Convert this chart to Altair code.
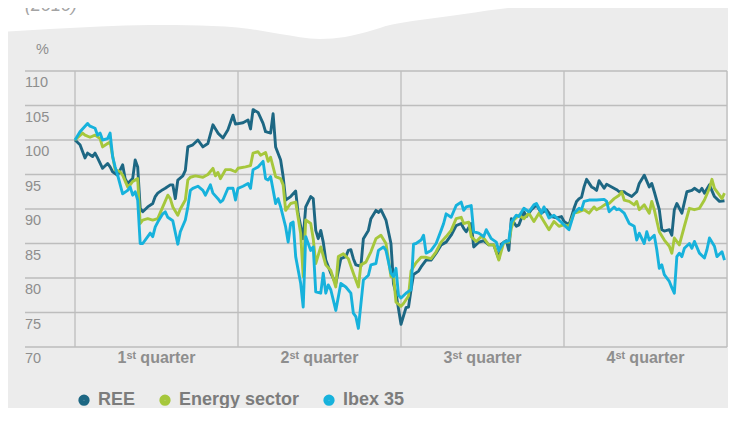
import altair as alt
import pandas as pd

# ---------------- data ----------------
series_names = ["REE", "Energy sector", "Ibex 35"]
series_colors = ["#1d6783", "#a6c73c", "#17b2dc"]

ree_day = [0,2,4,5,7,8,9,11,13,14,15,17,19,20,21,23,24,25,26,27,29,31,32,33,35,36,38,39,40,41,43,44,45,47,49,51,53,55,57,59,61,63,64,67,69,70,71,73,75,76,78,79,80,82,83,84,86,88,89,91,92,94,95,96,97,98,99,100,102,104,106,108,109,110,111,112,114,115,117,118,120,121,122,124,126,127,128,130,132,133,134,135,137,138,140,142,144,146,148,150,152,154,155,156,158,159,161,163,165,167,169,170,172,173,174,176,177,179,180,182,184,186,188,190,192,194,195,197,199,200,201,202,203,204,206,207,208,209,211,212,214,216,217,219,220,222,224,225,227,229,230,231,233,234,235,237,238,239,240,242,244,246,247,249,250,251,253,255,257,259]
ree_val = [100,99.3,97.4,98.1,97.6,98.1,97.4,95.9,96.6,96.1,95.4,94.9,96.4,94.4,93.7,94.4,97.1,96.1,90.1,89.6,90.3,90.8,91.8,92.3,92.8,93,93.5,93.5,91.5,94.2,94.8,95.6,99,99.3,100,99,99.5,102.2,101,100.3,101.5,103.6,102.3,102.5,102.9,101.6,104.4,104,102.4,101.2,101,103.8,99,97.1,94.7,91.3,91.8,92.6,89.3,85.7,90.3,91.8,91.5,86.9,85.7,86.9,85.2,82.6,80.7,79.2,82.8,83.1,84,84.1,82.8,81.9,81.7,85.7,86.9,88.6,89.8,89.5,89.9,88.4,85,79.2,77.8,73.3,75.7,75.8,78.3,80.5,81,81.6,82.6,82.6,83.6,84.8,85.2,86.2,87.6,87.9,87.2,86.7,87.9,84.5,85.2,85.4,84.8,84.8,82.8,84.9,85.4,84,88.6,87.5,87.7,89.6,88.9,89.9,90.6,89.4,89.9,88.9,88.7,88.9,88.2,87.7,90.1,91.1,91.5,91.7,93.2,94.3,93.2,93,92.7,94.1,93,93.6,93.2,92.8,92.5,92.5,92.2,91.8,92.5,93.7,94.9,93.2,93.7,92.5,89.9,87,86.8,87,86.2,89.9,90.8,89.4,92.5,92.7,93,92.5,93,92.3,93.5,91.8,91.1,91.2]

energy_day = [0,3,4,6,8,10,11,13,14,16,18,19,21,22,23,25,26,27,29,31,33,35,37,38,39,41,42,44,45,46,48,51,53,55,56,57,58,60,62,64,65,68,70,71,73,74,76,77,78,80,82,83,84,86,88,90,91,92,94,95,96,98,100,102,104,105,107,109,111,113,114,116,118,120,122,124,126,127,128,130,131,133,134,136,138,140,142,144,146,148,150,152,154,155,157,158,160,162,163,165,167,169,171,173,174,175,177,179,181,183,185,187,189,191,193,195,197,199,201,203,205,207,208,210,212,213,215,217,218,219,221,223,224,225,227,229,230,231,233,235,237,238,239,241,243,245,247,249,251,253,254,255,257,258,259]
energy_val = [100,101,100.7,100.4,100.7,100.2,99,99.5,99.7,95.7,95.4,94.9,93.2,93.5,94,94.4,87.9,88.4,88.6,88.4,88.6,90.3,92,91.5,90.3,89.1,90,91.3,94.2,94.6,94.8,94.6,95,95.9,94.8,95.3,94.4,95.7,95.7,95.4,95.9,96.1,96.3,98.1,98.3,97.8,98.2,96.9,97.5,94.7,94.4,93.5,89.8,90.8,91,86.4,80.2,88.4,87.9,85.7,82.1,84.5,81.9,81.1,78.7,83.1,83.5,82.8,80.7,78.7,81.9,82.3,83.8,85.7,86.2,85,80.2,80.4,76.5,75.9,76.3,77.4,81,82.2,83,83,82.8,83.8,85.2,86,86.9,88.6,88.8,87.9,88.1,86,85.3,86,85.8,84.8,84.8,82.6,85.2,85.2,87.2,88.4,89.1,88.6,89.4,88.2,89.4,88.2,87,88.2,87.5,87.7,87.5,89.4,89.6,89.9,89.4,90.3,89.9,90.3,90.8,90.8,91.5,92,92.5,91.3,91.1,90.6,91.1,89.9,90.6,89.4,91.1,89.9,86.7,85.5,84.6,83.6,85.8,84.8,87.5,90.1,89.9,90.1,91.3,93,94.3,93,92,91.5,92.3]

ibex_day = [0,2,5,6,8,9,10,11,13,14,15,16,17,19,21,22,23,24,25,26,27,29,30,31,32,33,35,36,37,39,40,41,42,44,45,46,47,49,51,52,54,55,57,58,59,61,63,64,65,67,69,70,71,73,75,76,77,78,80,81,82,84,85,86,87,88,90,91,92,94,95,96,98,99,100,101,102,104,106,108,110,111,112,113,115,117,118,120,121,123,124,126,127,128,129,130,132,134,135,136,138,139,140,142,144,146,147,148,150,152,154,155,156,158,159,161,163,164,166,168,169,171,173,174,176,177,179,181,183,184,186,187,189,191,193,195,197,199,201,202,203,205,208,211,212,213,215,216,217,219,221,223,224,225,227,228,229,231,232,233,234,235,237,238,239,240,241,242,243,245,246,247,249,251,252,253,255,256,258,259]
ibex_val = [100,101.2,102.4,102,101.7,100.7,101,100,100.2,101,97.6,96.1,94.9,92.2,92.7,93.2,92,92.5,91.3,85,85,86,86.5,86,87.4,88.1,89.3,89.6,88.8,88.3,86.6,84.9,86.7,88.4,90.3,92.7,93,93.3,92.7,92,93.5,92.3,91.5,91,91.3,93,93,91.3,93,93.3,93.7,93,95.7,96.1,96.9,94.4,94.2,94.7,90.8,91.5,90.3,87.4,85.2,87.9,88.1,83.1,79.2,75.8,86,84,84.5,78,77.8,80.7,77.8,79,78.3,75.3,79.2,78.7,77.8,74.9,74.4,72.7,79.7,80.4,81.9,82.1,84,84.5,84,80.7,80.2,81.4,77.5,77.1,77.8,78.3,84.9,85,85.5,86.2,83.6,84,85,86.9,87.9,89.3,88.8,90.5,91,89.8,90.3,90.5,86.7,86.5,86,87,85.7,85.2,84,85.2,85.4,88.1,89.1,88.9,90.1,89.6,90.6,90.8,89.4,90.3,88.7,89.1,88.4,87.7,87,89.4,90.1,89.9,91.1,91.3,91.3,91.4,91.1,89.6,90.3,89.9,90,89.4,87.9,87.5,85.5,86.5,85,86.7,85.5,86.2,84.1,81.4,81.9,80.5,79.5,78.6,77.8,83.1,83.6,83.1,84.3,85,84.3,85.3,83.6,82.9,84.1,85.8,84.6,83.1,83.8,82.6]

y_ticks = [70, 75, 80, 85, 90, 95, 100, 105, 110]
quarter_bounds = [0, 65, 130, 195, 260]
quarter_mid = [32.5, 97.5, 162.5, 227.5]
quarter_labels = ["1ˢᵗ quarter", "2ˢᵗ quarter", "3ˢᵗ quarter", "4ˢᵗ quarter"]

# decorative grey panel outline (page pixels)
wave_x = [0, 50, 100, 150, 200, 250, 280, 320, 345, 370, 390, 420, 450, 500, 550, 600, 650, 700, 737]
wave_y = [32, 29, 26.5, 25, 25.5, 29, 34, 39, 37, 31, 25, 20, 16, 9, 4, 3.5, 5, 6, 6]

FONT = "Liberation Sans, Arial, DejaVu Sans, sans-serif"
GREY_TXT = "#8e8e8e"

# ---------------- tables ----------------
rows = []
for name, days, vals in [("REE", ree_day, ree_val),
                         ("Energy sector", energy_day, energy_val),
                         ("Ibex 35", ibex_day, ibex_val)]:
    for d, v in zip(days, vals):
        rows.append({"day": d, "value": v, "series": name})
df = pd.DataFrame(rows)

ticks_df = pd.DataFrame({"v": y_ticks, "label": [str(t) for t in y_ticks]})
vl_df = pd.DataFrame({"q": quarter_bounds, "lo": [70] * 5, "hi": [110] * 5})
ql_df = pd.DataFrame({"mid": quarter_mid, "lab": quarter_labels, "lo": [70] * 4})
wave_df = pd.DataFrame({"px": wave_x, "py": wave_y, "pb": [421] * len(wave_x)})

xs = alt.Scale(domain=[0, 260], nice=False, zero=False)
ys = alt.Scale(domain=[70, 110], nice=False, zero=False)

# ---------------- layers ----------------
wave = alt.Chart(wave_df).mark_area(color="#ececec", interpolate="monotone").encode(
    x=alt.X("px:Q", scale=alt.Scale(domain=[0, 737], range=[-75, 662], nice=False, zero=False), axis=None),
    y=alt.Y("py:Q", scale=alt.Scale(domain=[0, 421], range=[-71, 350], nice=False, zero=False), axis=None),
    y2="pb:Q",
)

grid = alt.Chart(ticks_df).mark_rule(color="#bdbdbd", strokeWidth=1.3).encode(
    y=alt.Y("v:Q", scale=ys, axis=None),
    x=alt.value(-50),
    x2=alt.value(652),
)

ylabels = alt.Chart(ticks_df).mark_text(
    align="left", baseline="middle", dy=12, font=FONT, fontSize=14.5, color=GREY_TXT
).encode(
    y=alt.Y("v:Q", scale=ys, axis=None),
    x=alt.value(-50),
    text="label:N",
)

vlines = alt.Chart(vl_df).mark_rule(color="#bdbdbd", strokeWidth=1.3).encode(
    x=alt.X("q:Q", scale=xs, axis=None),
    y=alt.Y("lo:Q", scale=ys, axis=None),
    y2="hi:Q",
)

qlabels = alt.Chart(ql_df).mark_text(
    align="center", baseline="middle", dy=11, font=FONT, fontSize=16, fontWeight="bold", color=GREY_TXT
).encode(
    x=alt.X("mid:Q", scale=xs, axis=None),
    y=alt.Y("lo:Q", scale=ys, axis=None),
    text="lab:N",
)

pct = alt.Chart(pd.DataFrame({"t": ["%"]})).mark_text(
    align="left", baseline="middle", font=FONT, fontSize=14.5, color=GREY_TXT
).encode(text="t:N", x=alt.value(-39), y=alt.value(-21))

year = alt.Chart(pd.DataFrame({"t": ["(2010)"]})).mark_text(
    align="left", baseline="alphabetic", font=FONT, fontSize=18, fontStyle="italic", color="#a3a3a3"
).encode(text="t:N", x=alt.value(-50), y=alt.value(-60))

color = alt.Color(
    "series:N",
    scale=alt.Scale(domain=series_names, range=series_colors),
    legend=alt.Legend(
        orient="none", legendX=0, legendY=320, direction="horizontal", title=None,
        symbolType="circle", symbolSize=28, symbolStrokeWidth=6,
        labelFont=FONT, labelFontSize=18, labelFontWeight="bold", labelColor="#7c7c7c",
        labelOffset=5, columnPadding=14, padding=0,
    ),
)

def series_line(name):
    return alt.Chart(df).transform_filter(alt.datum.series == name).mark_line(
        strokeWidth=2.9, strokeJoin="round"
    ).encode(
        x=alt.X("day:Q", scale=xs, axis=None),
        y=alt.Y("value:Q", scale=ys, axis=None),
        color=color,
    )

lines = [series_line(n) for n in series_names]

content = alt.layer(grid, vlines, ylabels, qlabels, pct, year, *lines)

chart = alt.layer(wave, content).resolve_scale(x="independent", y="independent").properties(
    width=652,
    height=276,
    autosize=alt.AutoSizeParams(type="none"),
    padding={"left": 67, "top": 63, "right": 1, "bottom": 61},
    background="white",
).configure_view(stroke=None)

chart.save("out.html", embed_options={"renderer": "svg", "actions": False})
